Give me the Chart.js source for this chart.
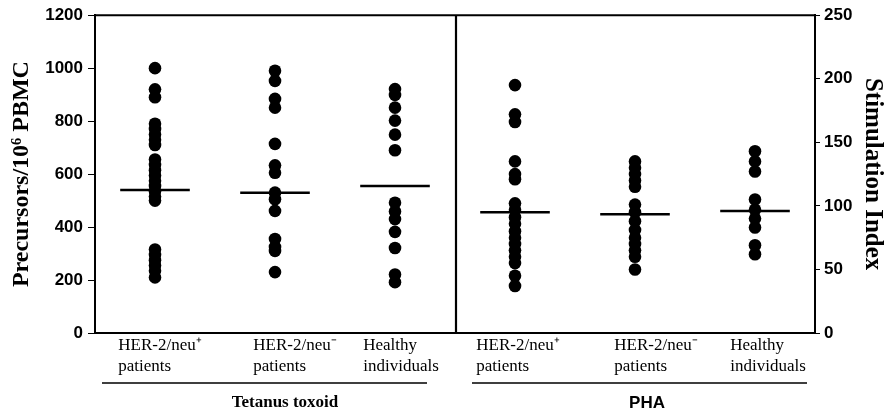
<!DOCTYPE html>
<html>
<head>
<meta charset="utf-8">
<script src="https://cdn.jsdelivr.net/npm/chart.js@4.4.1/dist/chart.umd.min.js"></script>
<style>
  html, body { margin: 0; padding: 0; background: #fff; }
  #wrap { width: 887px; height: 416px; }
</style>
</head>
<body>
<div id="wrap"><canvas id="c" width="887" height="416"></canvas></div>
<script>
// ---- data ----
const categories = [
  ['HER-2/neu\u207A', 'patients'],
  ['HER-2/neu\u207B', 'patients'],
  ['Healthy', 'individuals'],
  ['HER-2/neu\u207A', 'patients'],
  ['HER-2/neu\u207B', 'patients'],
  ['Healthy', 'individuals']
];
const groupTitles = ['Tetanus toxoid', 'PHA'];

// Tetanus toxoid (left axis: Precursors/10^6 PBMC)
const ttHer2Pos = [1000, 920, 890, 790, 770, 750, 730, 710, 655, 635, 615, 595, 575, 555, 535, 515, 500, 315, 295, 275, 255, 235, 210];
const ttHer2Neg = [990, 952, 884, 851, 714, 633, 605, 530, 505, 461, 355, 325, 310, 230];
const ttHealthy = [921, 899, 851, 802, 749, 690, 492, 459, 430, 382, 321, 221, 192];
const ttMedians = [540, 530, 555];

// PHA (right axis: Stimulation Index)
const phaHer2Pos = [195, 172, 166, 135, 125, 121, 102, 97, 91, 86, 80, 75, 70, 65, 60, 55, 45, 37];
const phaHer2Neg = [135, 130, 125, 120, 115, 101, 95, 88, 81, 75, 70, 65, 60, 50];
const phaHealthy = [143, 135, 127, 105, 97, 90, 83, 69, 62];
const phaMedians = [95, 93.5, 96];

const leftTicks = [0, 200, 400, 600, 800, 1000, 1200];
const rightTicks = [0, 50, 100, 150, 200, 250];

// ---- layout helpers (not data) ----
const labelNudge = [5, 20, 6, 3, 21, 13];
const medianHalf = 0.29;

const seriesList = [ttHer2Pos, ttHer2Neg, ttHealthy, phaHer2Pos, phaHer2Neg, phaHealthy];
const medians = ttMedians.concat(phaMedians);

const datasets = [];
seriesList.forEach((vals, i) => {
  datasets.push({
    type: 'scatter',
    data: vals.map(v => ({ x: i + 0.5, y: v })),
    yAxisID: i < 3 ? 'y' : 'y1',
    pointRadius: 6.3,
    pointBackgroundColor: '#000',
    pointBorderColor: '#000',
    pointBorderWidth: 0,
    showLine: false
  });
});
medians.forEach((m, i) => {
  datasets.push({
    type: 'line',
    data: [{ x: i + 0.5 - medianHalf, y: m }, { x: i + 0.5 + medianHalf, y: m }],
    yAxisID: i < 3 ? 'y' : 'y1',
    borderColor: '#000',
    borderWidth: 2.5,
    pointRadius: 0,
    fill: false
  });
});

const decor = {
  id: 'decor',
  afterDraw(chart) {
    const ctx = chart.ctx;
    const a = chart.chartArea;
    const xs = chart.scales.x;
    ctx.save();
    ctx.strokeStyle = '#000';
    // top frame
    ctx.lineWidth = 2;
    ctx.beginPath();
    ctx.moveTo(a.left - 1, a.top);
    ctx.lineTo(a.right + 1, a.top);
    ctx.stroke();
    // divider
    const xd = xs.getPixelForValue(3);
    ctx.lineWidth = 2.2;
    ctx.beginPath();
    ctx.moveTo(xd + 1, a.top);
    ctx.lineTo(xd + 1, a.bottom);
    ctx.stroke();
    // category labels
    ctx.fillStyle = '#000';
    ctx.font = '17px "Liberation Serif", "Times New Roman", serif';
    ctx.textBaseline = 'middle';
    ctx.textAlign = 'left';
    categories.forEach((lines, i) => {
      const cx = xs.getPixelForValue(i + 0.5) + labelNudge[i];
      const w = Math.max(...lines.map(l => ctx.measureText(l).width));
      lines.forEach((l, j) => ctx.fillText(l, cx - w / 2, a.bottom + 13 + j * 21));
    });
    // underlines
    ctx.lineWidth = 1.6;
    const yU = a.bottom + 50;
    ctx.beginPath();
    ctx.moveTo(xs.getPixelForValue(0) + 7, yU);
    ctx.lineTo(xs.getPixelForValue(3) - 28, yU);
    ctx.moveTo(xs.getPixelForValue(3) + 17, yU);
    ctx.lineTo(xs.getPixelForValue(6) - 8, yU);
    ctx.stroke();
    // group titles
    ctx.textAlign = 'center';
    ctx.font = 'bold 17px "Liberation Serif", "Times New Roman", serif';
    ctx.fillText(groupTitles[0], (xs.getPixelForValue(0) + xs.getPixelForValue(3)) / 2 + 10, a.bottom + 70);
    ctx.font = 'bold 17px "Liberation Sans", Arial, sans-serif';
    ctx.fillText(groupTitles[1], (xs.getPixelForValue(3) + xs.getPixelForValue(6)) / 2 + 12, a.bottom + 70);
    ctx.restore();
  }
};

const tickFont = { family: '"Liberation Sans", Arial, sans-serif', size: 17, weight: 'bold' };
const plainNum = v => String(v);

new Chart(document.getElementById('c'), {
  data: { datasets },
  options: {
    responsive: false,
    animation: false,
    devicePixelRatio: 1,
    layout: { padding: { top: 13, left: 0, right: 0, bottom: 0 } },
    plugins: { legend: { display: false }, tooltip: { enabled: false } },
    scales: {
      x: {
        type: 'linear',
        min: 0, max: 6,
        grid: { display: false },
        border: { display: true, color: '#000', width: 2 },
        ticks: { display: false },
        afterFit(s) { s.height = 83; }
      },
      y: {
        position: 'left',
        min: 0, max: 1200,
        afterBuildTicks(s) { s.ticks = leftTicks.map(v => ({ value: v })); },
        grid: { drawOnChartArea: false, drawTicks: true, tickLength: 7, color: '#000', tickWidth: 1 },
        border: { display: true, color: '#000', width: 2 },
        ticks: { color: '#000', font: tickFont, padding: 5, callback: plainNum },
        title: { display: true, text: 'Precursors/10\u2076 PBMC', color: '#000',
                 font: { family: '"Liberation Serif", "Times New Roman", serif', size: 24, weight: 'bold' },
                 padding: { top: 7, bottom: 0 } },
        afterFit(s) { s.width = 95; }
      },
      y1: {
        position: 'right',
        min: 0, max: 250,
        afterBuildTicks(s) { s.ticks = rightTicks.map(v => ({ value: v })); },
        grid: { drawOnChartArea: false, drawTicks: true, tickLength: 5, color: '#000', tickWidth: 1 },
        border: { display: true, color: '#000', width: 2 },
        ticks: { color: '#000', font: tickFont, padding: 4, callback: plainNum },
        title: { display: true, text: 'Stimulation Index', color: '#000',
                 font: { family: '"Liberation Serif", "Times New Roman", serif', size: 25, weight: 'bold' },
                 padding: { top: 0, bottom: 4 } },
        afterFit(s) { s.width = 72; }
      }
    }
  },
  plugins: [decor]
});
</script>
</body>
</html>
